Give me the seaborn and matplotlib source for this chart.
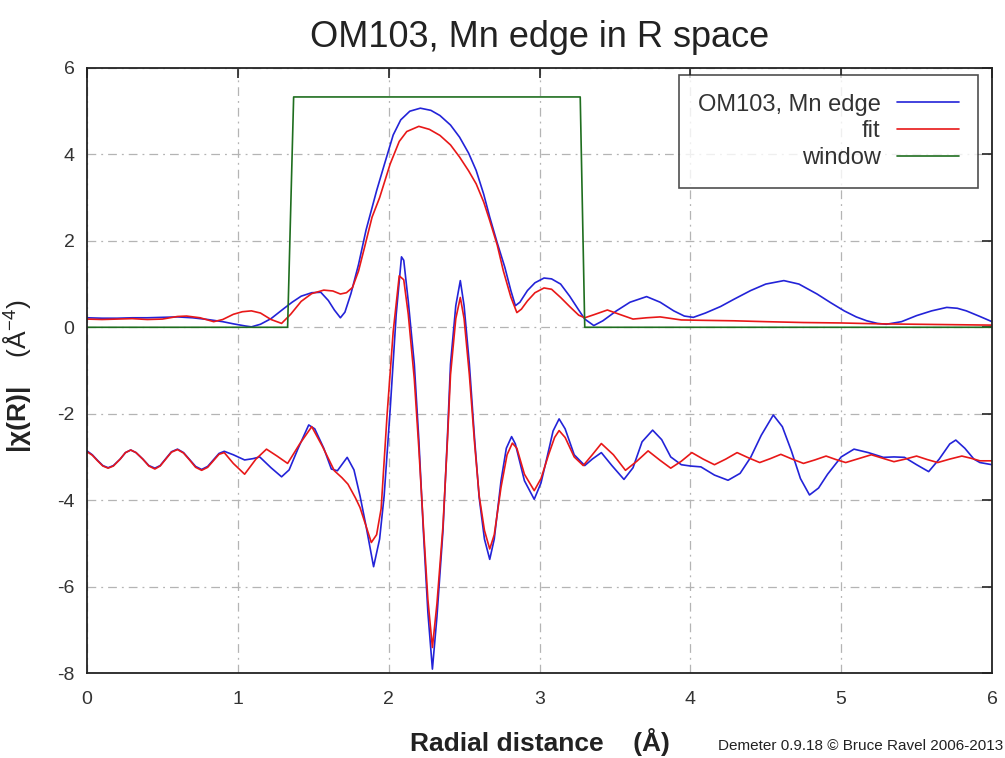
import numpy as np
import pandas as pd
import matplotlib
matplotlib.use("Agg")
import matplotlib.pyplot as plt
import seaborn as sns

# ---------------- data ----------------
r_mag_data = [0.00, 0.10, 0.20, 0.30, 0.40, 0.50, 0.60, 0.70, 0.80, 0.90, 0.97, 1.05, 1.09, 1.15,
              1.22, 1.30, 1.36, 1.42, 1.49, 1.55, 1.60, 1.64, 1.68, 1.71, 1.75, 1.80, 1.85, 1.92,
              1.97, 2.03, 2.08, 2.14, 2.21, 2.28, 2.34, 2.41, 2.47, 2.53, 2.58, 2.63, 2.67, 2.72,
              2.77, 2.81, 2.84, 2.87, 2.92, 2.97, 3.03, 3.08, 3.14, 3.20, 3.26, 3.30, 3.36, 3.42,
              3.51, 3.60, 3.71, 3.80, 3.89, 3.96, 4.02, 4.10, 4.20, 4.29, 4.40, 4.50, 4.62, 4.72,
              4.84, 4.93, 5.02, 5.10, 5.17, 5.24, 5.30, 5.40, 5.50, 5.60, 5.70, 5.77, 5.83, 5.92, 6.00]
mag_data = [0.22, 0.21, 0.21, 0.22, 0.22, 0.23, 0.24, 0.22, 0.18, 0.13, 0.08, 0.03, 0.01, 0.07,
            0.20, 0.42, 0.58, 0.72, 0.80, 0.81, 0.62, 0.40, 0.22, 0.35, 0.78, 1.45, 2.25, 3.16,
            3.75, 4.45, 4.80, 5.00, 5.07, 5.02, 4.90, 4.68, 4.40, 4.03, 3.63, 3.08, 2.55, 1.95,
            1.39, 0.85, 0.50, 0.58, 0.85, 1.03, 1.14, 1.12, 1.00, 0.72, 0.40, 0.19, 0.04, 0.15,
            0.38, 0.58, 0.71, 0.58, 0.38, 0.26, 0.23, 0.33, 0.48, 0.65, 0.85, 1.00, 1.08, 1.00,
            0.77, 0.57, 0.38, 0.24, 0.15, 0.09, 0.07, 0.13, 0.27, 0.38, 0.46, 0.44, 0.38, 0.25, 0.13]

r_mag_fit = [0.00, 0.10, 0.20, 0.30, 0.40, 0.50, 0.60, 0.66, 0.75, 0.84, 0.90, 0.97, 1.03, 1.09,
             1.15, 1.22, 1.29, 1.35, 1.42, 1.49, 1.57, 1.63, 1.68, 1.72, 1.76, 1.80, 1.84, 1.89,
             1.94, 2.01, 2.07, 2.12, 2.20, 2.27, 2.34, 2.41, 2.47, 2.53, 2.58, 2.63, 2.67, 2.72,
             2.76, 2.81, 2.85, 2.88, 2.92, 2.97, 3.03, 3.08, 3.14, 3.20, 3.26, 3.30, 3.36, 3.45,
             3.53, 3.62, 3.71, 3.80, 3.94, 4.10, 4.29, 4.50, 4.75, 5.00, 5.25, 5.50, 5.75, 6.00]
mag_fit = [0.19, 0.18, 0.19, 0.20, 0.18, 0.19, 0.25, 0.26, 0.22, 0.13, 0.18, 0.30, 0.36, 0.38,
           0.33, 0.18, 0.09, 0.30, 0.60, 0.78, 0.86, 0.84, 0.77, 0.80, 0.92, 1.30, 1.85, 2.55,
           3.00, 3.78, 4.30, 4.53, 4.65, 4.58, 4.44, 4.22, 3.94, 3.62, 3.32, 2.90, 2.47, 1.90,
           1.31, 0.70, 0.34, 0.42, 0.61, 0.80, 0.91, 0.88, 0.69, 0.48, 0.28, 0.22, 0.29, 0.40,
           0.30, 0.19, 0.22, 0.24, 0.17, 0.16, 0.15, 0.13, 0.11, 0.10, 0.08, 0.07, 0.06, 0.05]

r_win = [0.00, 1.33, 1.37, 3.27, 3.30, 6.00]
win = [0.0, 0.0, 5.33, 5.33, 0.0, 0.0]

r_re_data = [0.00, 0.035, 0.07, 0.105, 0.14, 0.175, 0.22, 0.255, 0.29, 0.325, 0.37, 0.41, 0.45, 0.485,
             0.52, 0.56, 0.60, 0.64, 0.68, 0.72, 0.76, 0.80, 0.84, 0.875, 0.91, 0.97,
             1.045, 1.10, 1.145, 1.22, 1.29, 1.34, 1.40, 1.47, 1.51, 1.57, 1.62, 1.66, 1.725, 1.77,
             1.81, 1.85, 1.90, 1.94, 1.97, 2.01, 2.05, 2.085, 2.10, 2.13, 2.17, 2.20, 2.23, 2.26,
             2.29, 2.32, 2.36, 2.39, 2.41, 2.445, 2.475, 2.50, 2.535, 2.57, 2.60, 2.635, 2.67, 2.70,
             2.745, 2.78, 2.815, 2.84, 2.90, 2.965, 3.01, 3.05, 3.09, 3.13, 3.17, 3.23, 3.30, 3.35,
             3.41, 3.48, 3.56, 3.62, 3.68, 3.75, 3.81, 3.87, 3.94, 4.00, 4.07, 4.16, 4.25, 4.33,
             4.40, 4.47, 4.55, 4.61, 4.67, 4.73, 4.79, 4.85, 4.91, 5.00, 5.085, 5.18, 5.28, 5.35,
             5.42, 5.50, 5.58, 5.65, 5.72, 5.76, 5.82, 5.88, 5.92, 6.00]
re_data = [-2.86, -2.95, -3.08, -3.20, -3.25, -3.20, -3.05, -2.90, -2.84, -2.90, -3.05, -3.20, -3.26, -3.20,
           -3.05, -2.88, -2.82, -2.90, -3.06, -3.22, -3.29, -3.22, -3.06, -2.92, -2.87, -2.95,
           -3.07, -3.04, -3.00, -3.25, -3.46, -3.30, -2.80, -2.26, -2.35, -2.80, -3.28, -3.32, -3.01, -3.30,
           -3.90, -4.60, -5.54, -4.90, -3.90, -1.90, 0.30, 1.63, 1.55, 0.60, -0.85, -2.60, -4.71, -6.60,
           -7.91, -6.70, -4.71, -2.50, -0.85, 0.50, 1.08, 0.50, -0.85, -2.60, -3.94, -4.90, -5.37, -4.90,
           -3.55, -2.80, -2.53, -2.70, -3.55, -3.98, -3.60, -3.01, -2.40, -2.12, -2.35, -2.95, -3.20, -3.05,
           -2.90, -3.20, -3.52, -3.25, -2.65, -2.38, -2.60, -3.00, -3.18, -3.21, -3.23, -3.42, -3.54, -3.38,
           -3.01, -2.50, -2.03, -2.30, -2.86, -3.50, -3.88, -3.72, -3.40, -3.00, -2.82, -2.90, -3.01, -3.00,
           -3.01, -3.18, -3.34, -3.05, -2.70, -2.61, -2.80, -3.05, -3.13, -3.18]

r_re_fit = [0.00, 0.035, 0.07, 0.105, 0.14, 0.175, 0.22, 0.255, 0.29, 0.325, 0.37, 0.41, 0.45, 0.485,
            0.52, 0.56, 0.60, 0.64, 0.68, 0.72, 0.76, 0.80, 0.84, 0.875, 0.91, 0.97,
            1.045, 1.12, 1.19, 1.26, 1.33, 1.41, 1.49, 1.56, 1.64, 1.69, 1.73, 1.78, 1.81, 1.85,
            1.885, 1.92, 1.95, 1.99, 2.03, 2.07, 2.10, 2.13, 2.17, 2.20, 2.23, 2.26, 2.29, 2.32,
            2.36, 2.39, 2.41, 2.445, 2.475, 2.50, 2.535, 2.57, 2.60, 2.635, 2.67, 2.70, 2.745, 2.785,
            2.82, 2.85, 2.90, 2.965, 3.01, 3.06, 3.10, 3.13, 3.17, 3.23, 3.29, 3.35, 3.41, 3.49,
            3.57, 3.645, 3.72, 3.80, 3.87, 3.94, 4.01, 4.085, 4.16, 4.235, 4.31, 4.385, 4.46, 4.53,
            4.60, 4.675, 4.75, 4.825, 4.90, 4.965, 5.03, 5.115, 5.20, 5.275, 5.35, 5.425, 5.50, 5.57,
            5.64, 5.72, 5.80, 5.86, 5.92, 6.00]
re_fit = [-2.88, -2.96, -3.09, -3.21, -3.26, -3.21, -3.05, -2.90, -2.84, -2.90, -3.05, -3.21, -3.28, -3.21,
          -3.06, -2.89, -2.83, -2.91, -3.07, -3.24, -3.31, -3.24, -3.08, -2.94, -2.90, -3.15,
          -3.40, -3.05, -2.82, -2.98, -3.15, -2.70, -2.30, -2.75, -3.32, -3.48, -3.63, -3.95, -4.17, -4.60,
          -4.98, -4.80, -4.20, -2.00, -0.10, 1.19, 1.10, 0.30, -1.20, -2.80, -4.60, -6.30, -7.41, -6.40,
          -4.60, -2.60, -1.10, 0.20, 0.69, 0.20, -1.10, -2.70, -3.90, -4.70, -5.13, -4.80, -3.70, -2.95,
          -2.68, -2.80, -3.40, -3.78, -3.50, -2.95, -2.55, -2.39, -2.55, -3.00, -3.20, -2.95, -2.69, -2.95,
          -3.31, -3.10, -2.86, -3.08, -3.26, -3.10, -2.90, -3.05, -3.18, -3.05, -2.90, -3.02, -3.13, -3.04,
          -2.94, -3.05, -3.15, -3.07, -2.98, -3.06, -3.13, -3.04, -2.95, -3.03, -3.11, -3.05, -2.98, -3.06,
          -3.13, -3.05, -2.98, -3.03, -3.09, -3.09]

x_ticks = [0, 1, 2, 3, 4, 5, 6]
y_ticks = [-8, -6, -4, -2, 0, 2, 4, 6]

# ---------------- styling ----------------
sns.set_theme(style="white")
plt.rcParams['font.family'] = ['Liberation Sans', 'DejaVu Sans']
plt.rcParams['mathtext.fontset'] = 'custom'
plt.rcParams['mathtext.rm'] = 'Liberation Sans'
plt.rcParams['mathtext.bf'] = 'Liberation Sans:bold'
plt.rcParams['mathtext.it'] = 'Liberation Sans:italic'

c_data = "#2323d8"
c_fit = "#e81818"
c_win = "#1f6e1f"

fig = plt.figure(figsize=(10.05, 7.58), dpi=100)
ax = fig.add_axes([87 / 1005, 1 - 673 / 758, 905 / 1005, 605 / 758])

lw = 1.2
sns.lineplot(x=r_mag_data, y=mag_data, ax=ax, color=c_data, lw=lw, label="OM103, Mn edge",
             estimator=None, sort=False)
sns.lineplot(x=r_mag_fit, y=mag_fit, ax=ax, color=c_fit, lw=lw, label="fit",
             estimator=None, sort=False)
sns.lineplot(x=r_re_data, y=re_data, ax=ax, color=c_data, lw=lw, label="_nolegend_",
             estimator=None, sort=False)
sns.lineplot(x=r_re_fit, y=re_fit, ax=ax, color=c_fit, lw=lw, label="_nolegend_",
             estimator=None, sort=False)
sns.lineplot(x=r_win, y=win, ax=ax, color=c_win, lw=lw, label="window",
             estimator=None, sort=False)

ax.set_xlim(0, 6)
ax.set_ylim(-8, 6)
ax.set_xticks(x_ticks)
ax.set_yticks(y_ticks)
ax.set_xticklabels([str(t) for t in x_ticks])
ax.set_yticklabels([str(t) for t in y_ticks])

ax.grid(True, color="#b4b4b4", lw=0.9, linestyle=(0, (7, 4, 1.5, 4)))
for s in ax.spines.values():
    s.set_visible(True)
    s.set_color("#222222")
    s.set_linewidth(1.3)
ax.tick_params(direction="in", length=7, width=1.2, color="#222222",
               top=True, right=True, labelsize=14, labelcolor="#333333")
ax.tick_params(axis="x", pad=13)
ax.tick_params(axis="y", pad=9)

ax.set_title("OM103, Mn edge in R space", fontsize=26, color="#222222", pad=15)
ax.set_xlabel("Radial distance    (Å)", fontsize=19, fontweight="bold", color="#222222", labelpad=14)
ax.set_ylabel(r"$\mathbf{|\chi(R)|}$    (Å$^{-4}$)", fontsize=19, color="#222222")
ax.yaxis.set_label_coords(-0.06, 0.49)

handles, labels = ax.get_legend_handles_labels()
order = [labels.index("OM103, Mn edge"), labels.index("fit"), labels.index("window")]
leg = ax.legend([handles[i] for i in order], [labels[i] for i in order],
                loc="upper right", bbox_to_anchor=(0.984, 0.989), markerfirst=False,
                fontsize=17, frameon=True, fancybox=False, edgecolor="#222222",
                handlelength=2.6, labelspacing=0.2, borderpad=0.8, handletextpad=0.7,
                borderaxespad=0)
leg.get_frame().set_linewidth(1.2)
for t in leg.get_texts():
    t.set_color("#333333")

fig.text(718 / 1005, 1 - 746 / 758, "Demeter 0.9.18 © Bruce Ravel 2006-2013",
         fontsize=11, color="#222222", va="center", ha="left")

fig.savefig("out.png", dpi=100)
